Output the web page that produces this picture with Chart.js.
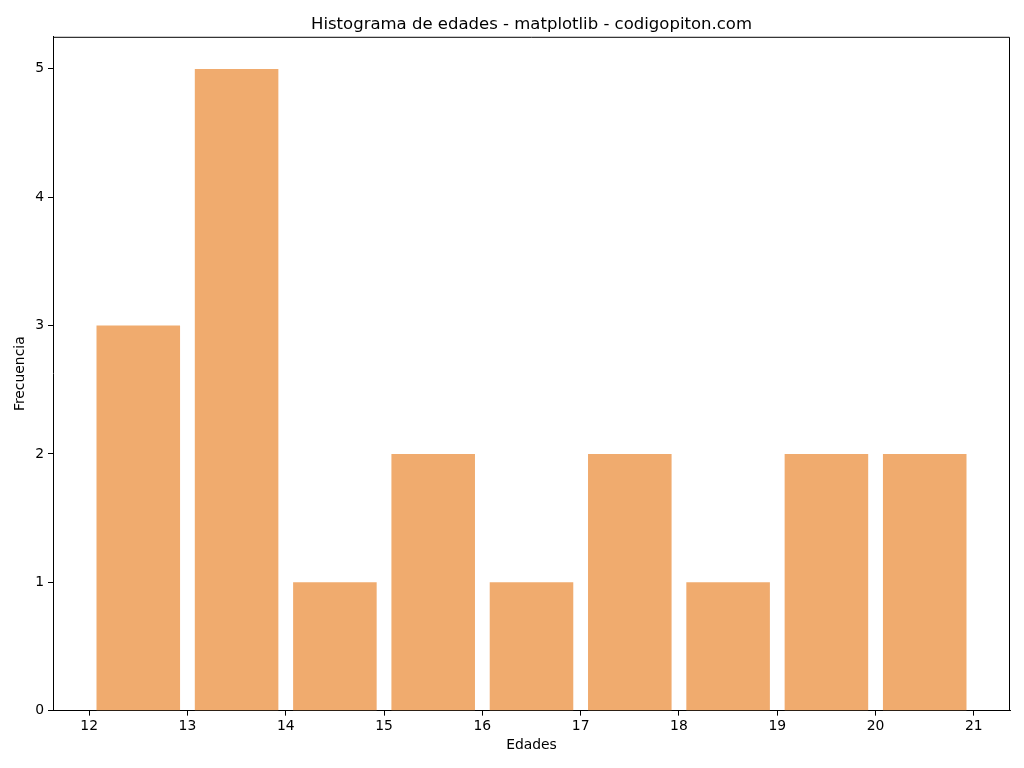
<!DOCTYPE html>
<html>
<head>
<meta charset="utf-8">
<script src="https://cdn.jsdelivr.net/npm/chart.js@4.4.1/dist/chart.umd.min.js"></script>
<style>
  html, body { margin: 0; padding: 0; background: #fff; }
  #wrap { width: 1024px; height: 768px; }
</style>
</head>
<body>
<div id="wrap"><canvas id="hist" width="1024" height="768"></canvas></div>
<script>
// Histogram of ages: bin centres and counts
const BIN_CENTERS = [12.5, 13.5, 14.5, 15.5, 16.5, 17.5, 18.5, 19.5, 20.5];
const COUNTS = [3, 5, 1, 2, 1, 2, 1, 2, 2];
const X_TICKS = [12, 13, 14, 15, 16, 17, 18, 19, 20, 21];
const Y_TICKS = [0, 1, 2, 3, 4, 5];
const BAR = "#f0ab6e", INK = "#000", FONT = "'DejaVu Sans', sans-serif";

// top + right spines like matplotlib
const frame = {
  id: "frame",
  afterDatasetsDraw(chart) {
    const { ctx, chartArea: a } = chart;
    ctx.save();
    ctx.strokeStyle = INK; ctx.lineWidth = 1;
    ctx.beginPath();
    ctx.moveTo(a.left, a.top + 0.5); ctx.lineTo(a.right - 0.5, a.top + 0.5); ctx.lineTo(a.right - 0.5, a.bottom);
    ctx.stroke();
    ctx.restore();
  }
};

new Chart(document.getElementById("hist"), {
  type: "bar",
  data: {
    datasets: [{
      data: BIN_CENTERS.map((x, i) => ({ x, y: COUNTS[i] })),
      backgroundColor: BAR, borderWidth: 0, inflateAmount: 0,
      categoryPercentage: 1, barPercentage: 0.85
    }]
  },
  options: {
    responsive: false, animation: false, devicePixelRatio: 1,
    layout: { padding: { left: 0, right: 14, top: 0, bottom: 0 } },
    plugins: {
      legend: { display: false }, tooltip: { enabled: false },
      title: {
        display: true, fullSize: false, text: "Histograma de edades - matplotlib - codigopiton.com",
        color: INK, font: { family: FONT, size: 16.5, weight: "normal" },
        padding: { top: 15, bottom: 2 }
      }
    },
    scales: {
      x: {
        type: "linear", min: 11.6325, max: 21.3675, offset: false,
        afterBuildTicks: s => { s.ticks = X_TICKS.map(v => ({ value: v })); },
        ticks: { color: INK, font: { family: FONT, size: 13.9 }, padding: 2, maxRotation: 0 },
        grid: { offset: false, drawOnChartArea: false, drawTicks: true, tickLength: 5, color: INK },
        border: { display: true, color: INK },
        title: { display: true, text: "Edades", color: INK, font: { family: FONT, size: 13.9 }, padding: { top: 1, bottom: 14 } }
      },
      y: {
        min: 0, max: 5.25,
        afterBuildTicks: s => { s.ticks = Y_TICKS.map(v => ({ value: v })); },
        afterFit: s => { s.width = 53; },
        ticks: { color: INK, font: { family: FONT, size: 13.9 }, padding: 4 },
        grid: { drawOnChartArea: false, drawTicks: true, tickLength: 5, color: INK },
        border: { display: true, color: INK },
        title: { display: true, text: "Frecuencia", color: INK, font: { family: FONT, size: 13.9 }, padding: { top: 12, bottom: 6 } }
      }
    }
  },
  plugins: [frame]
});
</script>
</body>
</html>
